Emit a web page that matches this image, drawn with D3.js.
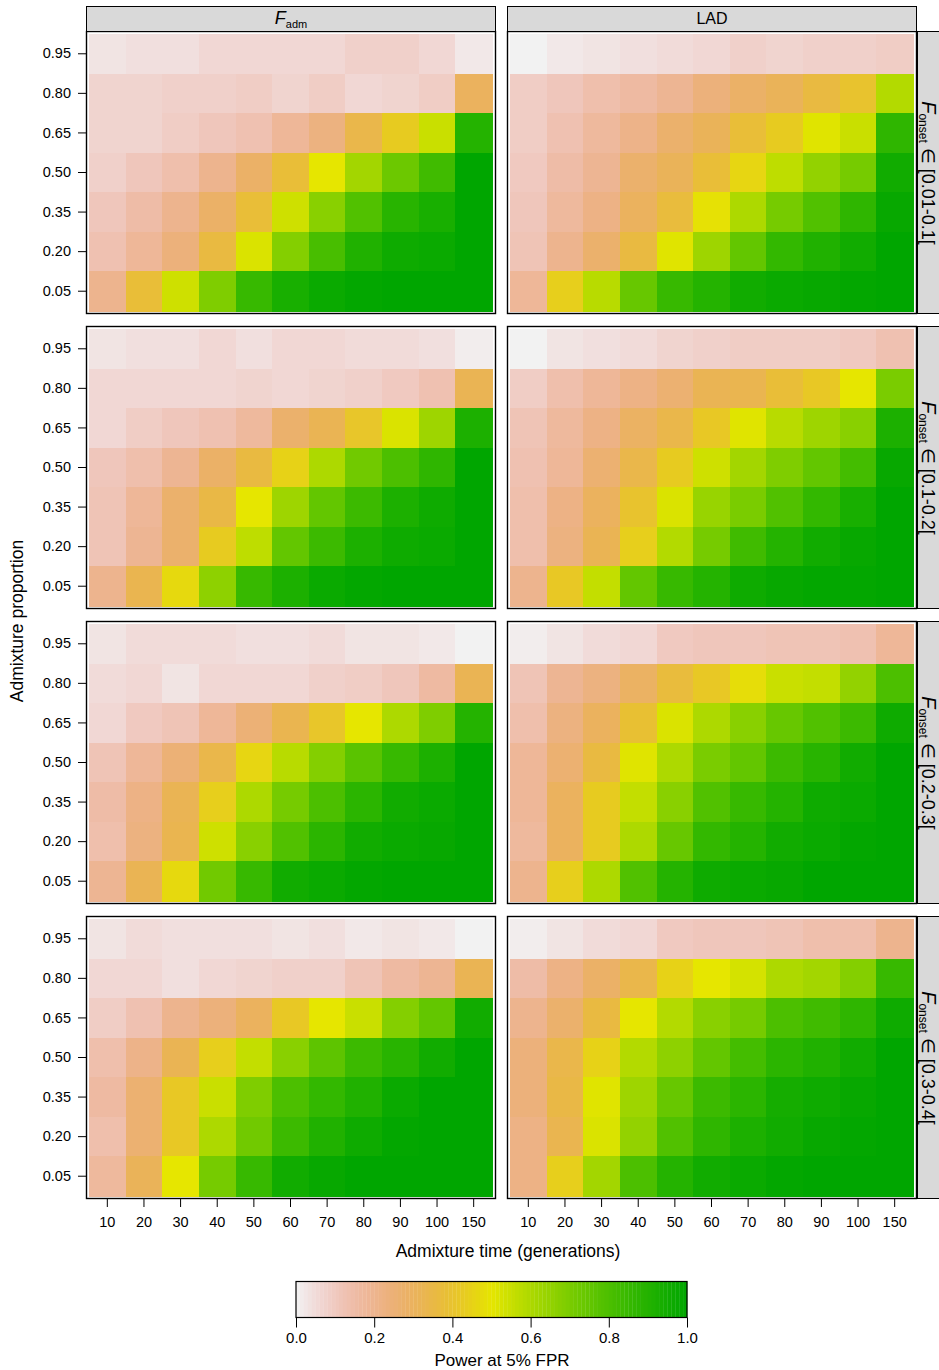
<!DOCTYPE html>
<html>
<head>
<meta charset="utf-8">
<script src="https://cdn.jsdelivr.net/npm/d3@7"></script>
<style>
  html, body { margin: 0; padding: 0; background: #fff; }
  svg text { font-family: "Liberation Sans Narrow", "Arial Narrow", "Liberation Sans", sans-serif; fill: #000; }
  svg .wide { font-family: "Liberation Sans", Arial, sans-serif; }
</style>
</head>
<body>
<svg id="chart" width="939" height="1370"></svg>
<script>
// Admixture time (columns) and admixture proportion (rows, top to bottom)
const times = ["10", "20", "30", "40", "50", "60", "70", "80", "90", "100", "150"];
const proportions = ["0.95", "0.80", "0.65", "0.50", "0.35", "0.20", "0.05"];
const methods = ["F_adm", "LAD"];
const onsetBins = ["[0.01-0.1[", "[0.1-0.2[", "[0.2-0.3[", "[0.3-0.4["];

// Power at 5% FPR, one 7x11 grid per (method, F_onset bin)
const fadm_01_01 = [
  [0.03,0.04,0.04,0.06,0.06,0.06,0.06,0.08,0.08,0.06,0.02],
  [0.07,0.07,0.08,0.08,0.09,0.07,0.09,0.06,0.07,0.09,0.30],
  [0.07,0.07,0.09,0.11,0.13,0.18,0.23,0.34,0.43,0.55,0.90],
  [0.08,0.11,0.14,0.20,0.28,0.38,0.50,0.62,0.73,0.83,1.00],
  [0.11,0.15,0.20,0.28,0.38,0.54,0.67,0.79,0.89,0.93,1.00],
  [0.13,0.18,0.24,0.36,0.52,0.68,0.81,0.91,0.96,0.97,1.00],
  [0.20,0.38,0.54,0.69,0.85,0.93,0.97,0.99,1.00,1.00,1.00]
];
const lad_01_01 = [
  [0.00,0.02,0.03,0.04,0.05,0.06,0.08,0.07,0.08,0.08,0.09],
  [0.09,0.11,0.14,0.16,0.19,0.24,0.28,0.31,0.36,0.40,0.59],
  [0.09,0.13,0.17,0.21,0.27,0.31,0.38,0.43,0.51,0.55,0.87],
  [0.10,0.15,0.19,0.27,0.31,0.38,0.46,0.57,0.65,0.71,0.95],
  [0.11,0.17,0.22,0.30,0.37,0.49,0.60,0.71,0.79,0.87,0.98],
  [0.12,0.20,0.27,0.36,0.51,0.63,0.75,0.86,0.91,0.95,1.00],
  [0.18,0.44,0.58,0.74,0.85,0.90,0.95,0.97,0.98,0.99,1.00]
];
const fadm_01_02 = [
  [0.03,0.04,0.04,0.06,0.04,0.06,0.06,0.05,0.05,0.04,0.01],
  [0.06,0.06,0.06,0.06,0.07,0.06,0.07,0.08,0.10,0.13,0.32],
  [0.06,0.09,0.11,0.13,0.17,0.27,0.32,0.41,0.52,0.63,0.92],
  [0.11,0.14,0.19,0.28,0.36,0.45,0.60,0.72,0.80,0.87,1.00],
  [0.12,0.18,0.27,0.35,0.50,0.63,0.75,0.84,0.92,0.96,1.00],
  [0.12,0.19,0.27,0.43,0.57,0.75,0.84,0.92,0.96,0.97,1.00],
  [0.20,0.33,0.47,0.66,0.85,0.92,0.97,0.99,1.00,1.00,1.00]
];
const lad_01_02 = [
  [0.00,0.03,0.04,0.05,0.07,0.08,0.09,0.09,0.09,0.10,0.13],
  [0.09,0.14,0.18,0.22,0.26,0.32,0.33,0.38,0.42,0.50,0.70],
  [0.12,0.17,0.22,0.29,0.34,0.42,0.51,0.58,0.63,0.67,0.92],
  [0.13,0.18,0.26,0.34,0.43,0.54,0.62,0.69,0.75,0.82,0.98],
  [0.14,0.22,0.30,0.40,0.52,0.64,0.70,0.79,0.86,0.93,1.00],
  [0.14,0.23,0.32,0.44,0.59,0.71,0.83,0.90,0.95,0.98,1.00],
  [0.20,0.42,0.56,0.75,0.85,0.90,0.96,0.98,0.99,0.99,1.00]
];
const fadm_02_03 = [
  [0.03,0.05,0.05,0.05,0.04,0.04,0.05,0.03,0.03,0.02,0.00],
  [0.05,0.06,0.03,0.06,0.06,0.06,0.08,0.09,0.11,0.16,0.32],
  [0.06,0.10,0.12,0.18,0.25,0.33,0.41,0.50,0.60,0.69,0.90],
  [0.12,0.18,0.25,0.34,0.46,0.58,0.68,0.77,0.85,0.92,1.00],
  [0.15,0.22,0.32,0.44,0.60,0.71,0.80,0.88,0.95,0.97,1.00],
  [0.14,0.23,0.33,0.54,0.67,0.79,0.88,0.95,0.97,0.98,1.00],
  [0.19,0.32,0.47,0.72,0.85,0.95,0.97,0.99,1.00,1.00,1.00]
];
const lad_02_03 = [
  [0.01,0.03,0.05,0.06,0.10,0.11,0.11,0.12,0.12,0.13,0.18],
  [0.12,0.19,0.23,0.29,0.37,0.42,0.48,0.55,0.56,0.65,0.80],
  [0.14,0.23,0.30,0.39,0.52,0.60,0.67,0.74,0.79,0.84,0.96],
  [0.18,0.26,0.36,0.51,0.60,0.70,0.75,0.84,0.89,0.95,1.00],
  [0.18,0.30,0.43,0.56,0.67,0.79,0.85,0.90,0.96,0.97,1.00],
  [0.17,0.30,0.43,0.60,0.74,0.86,0.90,0.95,0.97,0.99,1.00],
  [0.20,0.44,0.60,0.79,0.90,0.96,0.97,0.98,1.00,1.00,1.00]
];
const fadm_03_04 = [
  [0.03,0.05,0.04,0.04,0.04,0.03,0.04,0.02,0.03,0.02,0.00],
  [0.06,0.06,0.04,0.06,0.07,0.08,0.08,0.12,0.16,0.19,0.32],
  [0.09,0.13,0.20,0.24,0.30,0.42,0.50,0.55,0.68,0.75,0.95],
  [0.14,0.21,0.32,0.44,0.56,0.67,0.76,0.84,0.89,0.95,1.00],
  [0.16,0.26,0.42,0.55,0.69,0.80,0.86,0.91,0.97,1.00,1.00],
  [0.14,0.26,0.42,0.60,0.72,0.84,0.91,0.96,0.99,1.00,1.00],
  [0.17,0.31,0.50,0.71,0.85,0.95,0.98,1.00,1.00,1.00,1.00]
];
const lad_03_04 = [
  [0.01,0.03,0.05,0.06,0.10,0.11,0.11,0.12,0.14,0.14,0.20],
  [0.15,0.22,0.28,0.34,0.45,0.50,0.53,0.60,0.62,0.68,0.85],
  [0.20,0.27,0.36,0.50,0.59,0.67,0.71,0.80,0.83,0.87,0.96],
  [0.24,0.34,0.45,0.59,0.66,0.75,0.82,0.88,0.91,0.95,1.00],
  [0.24,0.35,0.51,0.63,0.74,0.84,0.88,0.94,0.96,0.98,1.00],
  [0.22,0.33,0.52,0.65,0.79,0.87,0.92,0.95,0.98,0.99,1.00],
  [0.22,0.44,0.62,0.80,0.90,0.95,0.97,0.99,1.00,1.00,1.00]
];
const colorbarTicks = [0, 0.2, 0.4, 0.6, 0.8, 1.0];

// grid[row][col] : rows = F_onset bins, cols = methods
const grids = [
  [fadm_01_01, lad_01_01],
  [fadm_01_02, lad_01_02],
  [fadm_02_03, lad_02_03],
  [fadm_03_04, lad_03_04]
];

// Reversed terrain palette: grey-white (0) -> tan -> yellow -> green (1)
function hsvToRgb(h, s, v) {
  const i = Math.floor(h * 6) % 6, f = h * 6 - Math.floor(h * 6);
  const p = v * (1 - s), q = v * (1 - f * s), t = v * (1 - (1 - f) * s);
  const c = [[v, t, p], [q, v, p], [p, v, t], [p, q, v], [t, p, v], [v, p, q]][i];
  return d3.rgb(c[0] * 255, c[1] * 255, c[2] * 255);
}
function terrain(x) {
  x = Math.max(0, Math.min(1, x));
  if (x >= 0.5) {
    const t = (x - 0.5) / 0.5;
    return hsvToRgb(1 / 6 + t / 6, 1, 0.9 - 0.25 * t);
  }
  const t = x / 0.5;
  return hsvToRgb(t / 6 * 0.99999, t, 0.95 - 0.05 * t);
}
const color = d3.scaleSequential(terrain).domain([0, 1]);

const svg = d3.select("#chart");

// Panel geometry
const colLeft = [86, 507];
const rowTop = [31, 326, 621, 916];
const panelW = 409, panelH = 282;
const inset = { l: 3, r: 3, t: 3, b: 2 };

const x = d3.scaleBand().domain(times).range([inset.l, panelW - inset.r]).padding(0);
const y = d3.scaleBand().domain(proportions).range([inset.t, panelH - inset.b]).padding(0);

grids.forEach((row, ri) => {
  row.forEach((grid, ci) => {
    const g = svg.append("g").attr("transform", `translate(${colLeft[ci]},${rowTop[ri]})`);
    const cells = [];
    grid.forEach((vals, pi) => vals.forEach((v, ti) => cells.push({ p: proportions[pi], t: times[ti], v })));
    g.selectAll("rect.cell").data(cells).join("rect")
      .attr("class", "cell")
      .attr("x", d => x(d.t))
      .attr("y", d => y(d.p))
      .attr("width", x.bandwidth() + 0.5)
      .attr("height", y.bandwidth() + 0.5)
      .attr("fill", d => color(d.v))
      .attr("shape-rendering", "crispEdges");
    g.append("rect")
      .attr("x", 0.5).attr("y", 0.5)
      .attr("width", panelW).attr("height", panelH)
      .attr("fill", "none").attr("stroke", "#000").attr("stroke-width", 1.4);

    if (ci === 0) {
      const ax = g.append("g").call(d3.axisLeft(y).tickSize(8).tickPadding(7));
      ax.select(".domain").remove();
      ax.selectAll("text").attr("font-size", 14.5);
    }
    if (ri === grids.length - 1) {
      const ax = g.append("g").attr("transform", `translate(0,${panelH + 1})`)
        .call(d3.axisBottom(x).tickSize(8).tickPadding(10));
      ax.select(".domain").remove();
      ax.selectAll("text").attr("font-size", 14.5);
    }
  });

  // Right strip: F_onset bin
  const sg = svg.append("g").attr("transform", `translate(917,${rowTop[ri]})`);
  sg.append("rect").attr("x", 0.5).attr("y", 0.5).attr("width", 30).attr("height", panelH)
    .attr("fill", "#D9D9D9").attr("stroke", "#000").attr("stroke-width", 1);
  const st = sg.append("text")
    .attr("transform", `translate(5,${panelH / 2 + 1}) rotate(90)`)
    .attr("text-anchor", "middle")
    .attr("font-size", 18);
  st.append("tspan").attr("font-style", "italic").attr("font-size", 20).text("F");
  st.append("tspan").attr("font-size", 12).attr("dy", 3).text("onset");
  st.append("tspan").attr("dy", -3).text(" \u2208 " + onsetBins[ri]);
});

// Top strips: method
methods.forEach((m, ci) => {
  const sg = svg.append("g").attr("transform", `translate(${colLeft[ci]},6)`);
  sg.append("rect").attr("x", 0.5).attr("y", 0.5).attr("width", panelW).attr("height", 25)
    .attr("fill", "#D9D9D9").attr("stroke", "#000").attr("stroke-width", 1);
  const st = sg.append("text").attr("x", panelW / 2 + 0.5).attr("y", 17.5)
    .attr("text-anchor", "middle").attr("font-size", 16);
  if (m === "F_adm") {
    st.append("tspan").attr("font-style", "italic").attr("font-size", 18).text("F");
    st.append("tspan").attr("font-size", 11).attr("dy", 4).text("adm");
  } else {
    st.text(m);
  }
});

// Axis titles
svg.append("text").attr("x", 508).attr("y", 1257).attr("text-anchor", "middle")
  .attr("font-size", 17.5).text("Admixture time (generations)");
svg.append("text").attr("transform", "translate(23,621) rotate(-90)").attr("text-anchor", "middle")
  .attr("font-size", 17.5).text("Admixture proportion");

// Colour key
const cb = { x0: 296, x1: 687, y0: 1281, y1: 1317 };
const cx = d3.scaleLinear().domain([0, 1]).range([cb.x0, cb.x1]);
const nSteps = 100;
const steps = d3.range(nSteps).map(i => i / nSteps);
svg.append("g").selectAll("rect").data(steps).join("rect")
  .attr("x", d => cx(d))
  .attr("y", cb.y0)
  .attr("width", (cb.x1 - cb.x0) / nSteps + 0.3)
  .attr("height", cb.y1 - cb.y0)
  .attr("fill", d => color(d + 0.5 / nSteps));
svg.append("rect").attr("x", cb.x0).attr("y", cb.y0 + 0.5)
  .attr("width", cb.x1 - cb.x0).attr("height", cb.y1 - cb.y0)
  .attr("fill", "none").attr("stroke", "#000").attr("stroke-width", 1.2);
const cax = svg.append("g").attr("transform", `translate(0,${cb.y1 + 0.5})`)
  .call(d3.axisBottom(cx).tickValues(colorbarTicks).tickFormat(d3.format(".1f")).tickSize(10).tickPadding(5));
cax.select(".domain").remove();
cax.selectAll("text").attr("class", "wide").attr("font-size", 15);
svg.append("text").attr("class", "wide").attr("x", 502).attr("y", 1366).attr("text-anchor", "middle")
  .attr("font-size", 17).text("Power at 5% FPR");
</script>
</body>
</html>
